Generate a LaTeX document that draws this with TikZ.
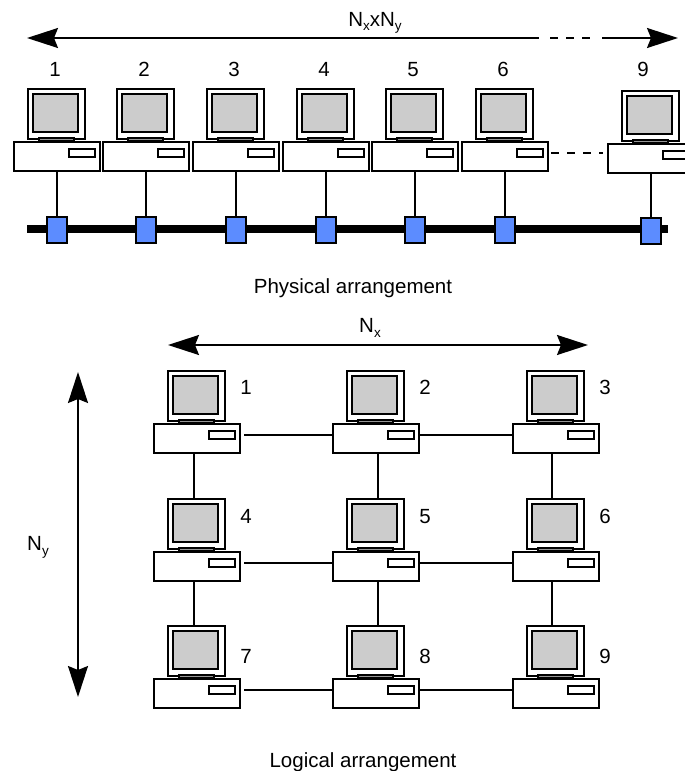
\documentclass[tikz,border=0pt]{standalone}
\usepackage{fontspec}
\setmainfont{Liberation Sans}
\usetikzlibrary{arrows.meta}

\definecolor{tapblue}{RGB}{92,140,255}
\definecolor{screengray}{RGB}{204,204,204}
\definecolor{standgray}{RGB}{150,150,150}

\newcommand{\lowsub}[1]{\raisebox{-5pt}{\fontsize{13.5}{14}\selectfont #1}}

\tikzset{
  x=1pt, y=-1pt,
  every node/.style={font=\fontsize{20.5}{24}\selectfont, inner sep=0pt},
  basebox/.style={draw, line width=2pt, fill=white, minimum width=86pt, minimum height=29pt, anchor=north west},
  monbox/.style={draw, line width=2.2pt, fill=white, minimum width=57pt, minimum height=50pt, anchor=north west},
  wire/.style={line width=1.8pt},
  tapbox/.style={draw, line width=1.5pt, fill=tapblue, minimum width=20pt, minimum height=26pt},
  bigarrow/.style={line width=1.8pt, -{Stealth[length=31pt,width=20pt,inset=4pt]}},
  bigarrows/.style={line width=1.8pt, {Stealth[length=31pt,width=20pt,inset=4pt]}-{Stealth[length=31pt,width=20pt,inset=4pt]}},
  dashlink/.style={line width=1.9pt, dash pattern=on 8pt off 8pt},
  % desktop computer: origin is the top-left corner of the base unit
  computer/.pic={
    \node[monbox] (-mon) at (14,-53) {};
    \draw[line width=2.2pt, fill=screengray] (20,-47) rectangle (65,-9);
    \draw[line width=1.2pt, fill=standgray] (26,-3) rectangle (61,0);
    \node[basebox] (-base) at (0,0) {};
    \draw[line width=2pt, fill=white] (56,8) rectangle (82,16);
    \coordinate (-l) at (0,12);
    \coordinate (-r) at (86,12);
  }
}

\begin{document}
\begin{tikzpicture}
\clip (0,0) rectangle (685,771);

% ---------- physical arrangement ----------
\coordinate (ta) at (27,38);
\coordinate (tb) at (539,38);
\coordinate (tc) at (550,38);
\coordinate (td) at (591,38);
\coordinate (te) at (602,38);
\coordinate (tf) at (678,38);
\draw[line width=1.8pt, {Stealth[length=31pt,width=20pt,inset=4pt]}-] (ta) -- (tb);
\draw[dashlink] (tc) -- (td);
\draw[bigarrow] (te) -- (tf);
\node[anchor=base] (ltop) at (375,26) {N\lowsub{x}xN\lowsub{y}};

\coordinate (busL) at (27,229);
\coordinate (busR) at (668,229);
\draw[line width=8pt] (busL) -- (busR);

\foreach \i/\bx in {1/13,2/102,3/192,4/282,5/371,6/461} {
  \pic (p\i) at (\bx,141) {computer};
  \node[anchor=base] (pn\i) at (\bx+42,76) {\i};
  \node[tapbox] (tap\i) at (\bx+44,230) {};
  \draw[wire] (p\i-base.south) -- (p\i-base.south |- tap\i.north);
}
\pic (p9) at (607,143) {computer};
\node[anchor=base] (pn9) at (643,76) {9};
\node[tapbox] (tap9) at (651,231) {};
\draw[wire] (p9-base.south) -- (p9-base.south |- tap9.north);
\draw[dashlink] ([xshift=4pt]p6-r) -- ([xshift=-4pt]p6-r -| p9-l);

\node[anchor=base] (lphys) at (353,293) {Physical arrangement};

% ---------- logical arrangement ----------
\coordinate (nxa) at (168,345);
\coordinate (nxb) at (588,345);
\draw[bigarrows] (nxa) -- (nxb);
\node[anchor=base] (lnx) at (370,332) {N\lowsub{x}};

\coordinate (nya) at (78,372);
\coordinate (nyb) at (78,697);
\draw[bigarrows] (nya) -- (nyb);
\node[anchor=base] (lny) at (38,550) {N\lowsub{y}};

\foreach \n/\bx/\by/\ly in {1/153/423/394, 2/332/423/394, 3/512/423/394,
                            4/153/551/523, 5/332/551/523, 6/512/551/523,
                            7/153/678/663, 8/332/678/663, 9/512/678/663} {
  \pic (g\n) at (\bx,\by) {computer};
  \node[anchor=base] (gn\n) at (\bx+93,\ly) {\n};
}

% horizontal links
\foreach \a/\b in {1/2,4/5,7/8} {
  \draw[wire] ([xshift=5pt]g\a-r) -- (g\b-l);
}
\foreach \a/\b in {2/3,5/6,8/9} {
  \draw[wire] (g\a-r) -- (g\b-l);
}
% vertical links
\foreach \a/\b/\s in {1/4/-3,4/7/-3,2/5/2,5/8/2,3/6/-4,6/9/-4} {
  \draw[wire] ([xshift=\s pt]g\a-base.south) -- ([xshift=\s pt]g\a-base.south |- g\b-mon.north);
}

\node[anchor=base] (llog) at (363,767) {Logical arrangement};
\end{tikzpicture}
\end{document}
